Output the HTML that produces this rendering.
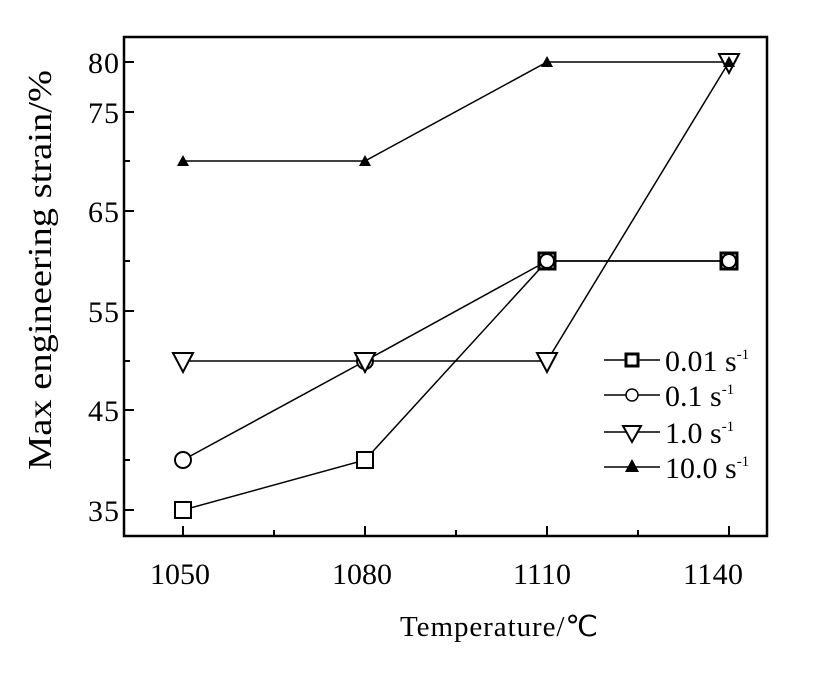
<!DOCTYPE html><html><head><style>body{margin:0;background:#fff}</style></head><body>
<svg width="816" height="668" viewBox="0 0 816 668" font-family="Liberation Serif, serif">
<rect x="124" y="37" width="643" height="499" fill="none" stroke="#000" stroke-width="2.5"/>
<g stroke="#000" stroke-width="2">
<line x1="124" y1="62" x2="134" y2="62"/><line x1="124" y1="112" x2="134" y2="112"/><line x1="124" y1="161" x2="130" y2="161"/><line x1="124" y1="211" x2="134" y2="211"/><line x1="124" y1="261" x2="130" y2="261"/><line x1="124" y1="311" x2="134" y2="311"/><line x1="124" y1="361" x2="130" y2="361"/><line x1="124" y1="410" x2="134" y2="410"/><line x1="124" y1="460" x2="130" y2="460"/><line x1="124" y1="510" x2="134" y2="510"/>
<line x1="183" y1="536" x2="183" y2="526"/><line x1="274" y1="536" x2="274" y2="530"/><line x1="365" y1="536" x2="365" y2="526"/><line x1="456" y1="536" x2="456" y2="530"/><line x1="547" y1="536" x2="547" y2="526"/><line x1="638" y1="536" x2="638" y2="530"/><line x1="729" y1="536" x2="729" y2="526"/>
</g>
<g font-size="30">
<text x="88" y="73" textLength="31">80</text><text x="88" y="123" textLength="31">75</text><text x="88" y="222" textLength="31">65</text><text x="88" y="322" textLength="31">55</text><text x="88" y="421" textLength="31">45</text><text x="88" y="521" textLength="31">35</text>
<text x="150" y="584" textLength="60">1050</text><text x="332" y="584" textLength="60">1080</text><text x="513" y="584" textLength="58">1110</text><text x="683" y="584" textLength="60">1140</text>
</g>
<text x="400" y="636" font-size="29" textLength="198">Temperature/℃</text>
<text transform="translate(51,470) rotate(-90)" font-size="34" textLength="400" lengthAdjust="spacingAndGlyphs">Max engineering strain/%</text>
<g fill="none" stroke="#000" stroke-width="1.5">
<polyline points="183,510 365,460 547,261 729,261"/>
<polyline points="183,460 365,361 547,261 729,261"/>
<polyline points="183,361 365,361 547,361 729,62"/>
<polyline points="183,161 365,161 547,62 729,62"/>
</g>
<g fill="#fff" stroke="#000" stroke-width="2">
<rect x="175" y="502" width="16" height="16"/><rect x="357" y="452" width="16" height="16"/><rect x="539" y="253" width="16" height="16" stroke-width="3"/><rect x="721" y="253" width="16" height="16" stroke-width="3"/>
<circle cx="183" cy="460" r="8"/><circle cx="365" cy="361" r="8"/><circle cx="547" cy="261" r="7"/><circle cx="729" cy="261" r="7"/>
<polygon points="173,353 193,353 183,372"/><polygon points="355,353 375,353 365,372"/><polygon points="537,353 557,353 547,372"/><polygon points="719,54 739,54 729,73"/>
</g>
<g fill="#000"><polygon points="183,155 189,166 177,166"/><polygon points="365,155 371,166 359,166"/><polygon points="547,56 553,67 541,67"/><polygon points="729,56 735,67 723,67"/></g>
<g stroke="#000" stroke-width="1.5"><line x1="604" y1="360" x2="660" y2="360"/><line x1="604" y1="395" x2="660" y2="395"/><line x1="604" y1="432" x2="660" y2="432"/><line x1="604" y1="467" x2="660" y2="467"/></g>
<rect x="626" y="354" width="12" height="12" fill="#fff" stroke="#000" stroke-width="3"/>
<circle cx="632" cy="395" r="6" fill="#fff" stroke="#000" stroke-width="1.5"/>
<polygon points="623,426 641,426 632,442" fill="#fff" stroke="#000" stroke-width="2"/>
<polygon points="632,459 639,472 625,472" fill="#000"/>
<g font-size="30"><text x="665" y="371">0.01 s<tspan font-size="15" dy="-12">-1</tspan></text><text x="665" y="406">0.1 s<tspan font-size="15" dy="-12">-1</tspan></text><text x="665" y="443">1.0 s<tspan font-size="15" dy="-12">-1</tspan></text><text x="665" y="478">10.0 s<tspan font-size="15" dy="-12">-1</tspan></text></g>
</svg></body></html>
